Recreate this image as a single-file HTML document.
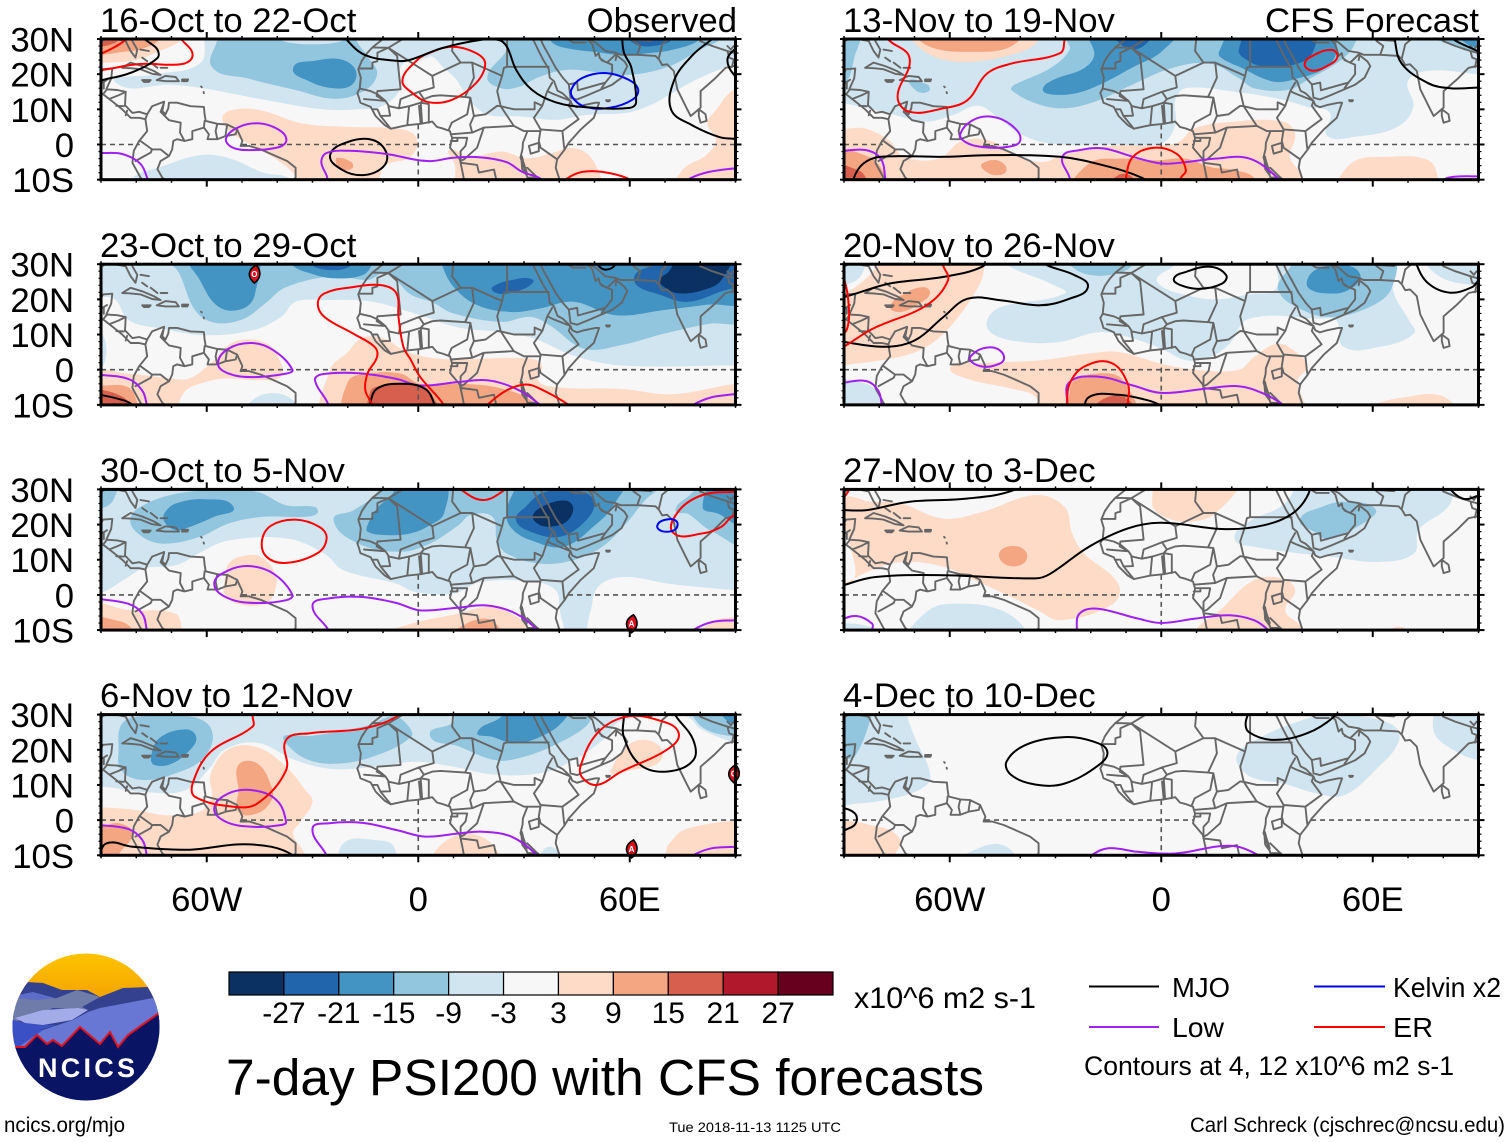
<!DOCTYPE html>
<html lang="en">
<head>
<meta charset="utf-8">
<title>7-day PSI200 with CFS forecasts</title>
<style>
html,body{margin:0;padding:0;background:#fff;}
svg{display:block;font-family:"Liberation Sans",Arial,sans-serif;}
</style>
</head>
<body>
<svg id="chart" xmlns="http://www.w3.org/2000/svg" width="1510" height="1142" viewBox="0 0 1510 1142">
<rect width="1510" height="1142" fill="#fff"/>
<defs id="clip-defs">
<clipPath id="logo-clip"><circle cx="86" cy="1027" r="73.5"/></clipPath>
<linearGradient id="logo-sky-gradient" x1="0" y1="0" x2="0" y2="1"><stop offset="0" stop-color="#ffc400"/><stop offset="1" stop-color="#f2a000"/></linearGradient>
</defs>
<g id="panels"></g>

<g font-size="34.7" fill="#000">
<text x="100" y="32">16-Oct to 22-Oct</text>
<text x="100" y="257">23-Oct to 29-Oct</text>
<text x="100" y="482">30-Oct to 5-Nov</text>
<text x="100" y="707">6-Nov to 12-Nov</text>
<text x="843" y="32">13-Nov to 19-Nov</text>
<text x="843" y="257">20-Nov to 26-Nov</text>
<text x="843" y="482">27-Nov to 3-Dec</text>
<text x="843" y="707">4-Dec to 10-Dec</text>
<text x="737" y="32" text-anchor="end">Observed</text>
<text x="1479" y="32" text-anchor="end">CFS Forecast</text>
</g>

<g clip-path="url(#logo-clip)">
<rect x="10" y="1000" width="155" height="105" fill="#3a50c4"/>
<rect x="12" y="953" width="148" height="50" fill="url(#logo-sky-gradient)"/>
<polygon points="27,982 43,983 62,990 87,990 100,997 123,988 148,987 162,1012 162,1030 10,1030 10,1005" fill="#34418f"/>
<polygon points="18,995 33,992 55,998 40,1002 17,1000" fill="#5c6cc8"/>
<polygon points="13,1008 17,998 37,1000 57,998 77,990 100,997 82,1007 88,1010 53,1008 10,1024" fill="#6f7ba8"/>
<polygon points="14,1050 43,1030 73,1020 88,1012 100,1008 153,998 162,1012 162,1060 14,1060" fill="#6877d4"/>
<polygon points="5,1018 25,1023 43,1025 57,1025 40,1030 20,1043 15,1050 5,1050" fill="#3a50c4"/>
<polygon points="15,1018 43,1010 78,1008 88,1010 72,1020 43,1025 25,1023" fill="#a3abe8"/>
<polygon points="0,1047 15,1047 25,1047 37,1035 47,1044 53,1040 62,1046 80,1027 100,1044 110,1032 118,1047 128,1035 159,1013 170,1008 170,1110 0,1110" fill="#0a1464"/>
<polyline points="15,1047 25,1047 37,1035 47,1044 53,1040 62,1046 80,1027 100,1044 110,1032 118,1047 128,1035 159,1013" fill="none" stroke="#e0141e" stroke-width="2"/>
<text x="38" y="1077" font-size="27" font-weight="bold" fill="#fff" textLength="97" lengthAdjust="spacing">NCICS</text>
</g>

<g id="colorbar"></g>
<text x="854" y="1008" font-size="30" textLength="182" lengthAdjust="spacingAndGlyphs">x10^6 m2 s-1</text>

<text x="226" y="1095" font-size="51" textLength="758" lengthAdjust="spacingAndGlyphs">7-day PSI200 with CFS forecasts</text>

<g font-size="28">
<line x1="1089" y1="986.5" x2="1159" y2="986.5" stroke="#000" stroke-width="2"/>
<text x="1172" y="997" textLength="58" lengthAdjust="spacingAndGlyphs">MJO</text>
<line x1="1314" y1="986.5" x2="1385" y2="986.5" stroke="#0000ee" stroke-width="2"/>
<text x="1393" y="997" textLength="108" lengthAdjust="spacingAndGlyphs">Kelvin x2</text>
<line x1="1089" y1="1027" x2="1159" y2="1027" stroke="#a020f0" stroke-width="2"/>
<text x="1172" y="1037" textLength="52" lengthAdjust="spacingAndGlyphs">Low</text>
<line x1="1314" y1="1027" x2="1385" y2="1027" stroke="#ff0000" stroke-width="2"/>
<text x="1393" y="1037" textLength="40" lengthAdjust="spacingAndGlyphs">ER</text>
<text x="1084" y="1075" font-size="27" textLength="370" lengthAdjust="spacingAndGlyphs">Contours at 4, 12 x10^6 m2 s-1</text>
</g>

<text x="4" y="1132" font-size="21" textLength="121" lengthAdjust="spacingAndGlyphs">ncics.org/mjo</text>
<text x="669" y="1132" font-size="14" textLength="172" lengthAdjust="spacingAndGlyphs">Tue 2018-11-13 1125 UTC</text>
<text x="1190" y="1132" font-size="21" textLength="315" lengthAdjust="spacingAndGlyphs">Carl Schreck (cjschrec@ncsu.edu)</text>
</svg>

<script>
// ---------- axis labels ----------
const latTickValues = [30, 20, 10, 0, -10];
const latTickLabels = ['30N', '20N', '10N', '0', '10S'];
const lonTickValues = [-60, 0, 60];
const lonTickLabels = ['60W', '0', '60E'];
const colorbarLabels = ['-27', '-21', '-15', '-9', '-3', '3', '9', '15', '21', '27'];

// ---------- PSI200 filled contours: [level, [lon, lat, lon, lat, ...]] ----------
const oct16Fields = [
[-1,[-62,33,-60.7,30,-62,23,-74,20,-85.7,17.5,-70,17,-61,16,-43,12.6,-27,10,-17,10,-10,11,-5,16,-5,22,-1,24.5,2,24.5,4,25,7,22,10.7,18.5,15,12,20,8.4,28.6,8,39,7,47.7,8.4,59,9,65.5,11,72,14.6,79,18.5,89.6,23,95,25,95,33]],
[-1,[-81,-14,-81,-9.5,-73,-6.4,-62,-3,-53.6,-3.9,-44,-8,-36.6,-9.6,-35,-14]],
[-2,[-57,33,-57,30,-58.5,22,-48.4,18.8,-34.8,15.5,-24,13,-15.8,15,-11.7,20,-14.4,25,-17.8,30,-18,33,-20,33,-20,30,-31,28.5,-40,30,-42,33]],
[-2,[23.9,33,23.9,29.7,25,26.9,19.6,19.2,23.5,16,28.6,16.4,34.3,19.2,42,21.2,50.5,20.6,57.9,19.8,65.5,20.6,73,23,79.7,26.9,85.4,29.7,87,33]],
[-3,[-35.5,21.7,-29.3,23.8,-22,24.2,-17.8,21.2,-18.8,17,-24,16,-30.7,17.9]],
[-3,[36,33,38,29,42,27.4,50.5,26.3,57.9,25.4,65.5,26,72,26.9,79.7,29.7,81,33]],
[-4,[59,33,60,29.7,63.5,28,68.4,28.3,71.8,29.7,73,33]],
[1,[-95,23,-89.6,23.2,-80,24,-74,26.3,-67,29.7,-65,33,-95,33]],
[2,[-95,25.5,-90,25.5,-84,26.3,-79,27,-73.5,29.7,-72,33,-95,33]],
[3,[-95,28,-90,27.9,-87.7,28.3,-85,29.7,-84,33,-95,33]],
[1,[-55.6,7.5,-52.8,9.8,-45,9.8,-32.9,6,-19.6,5,-8.2,4.7,-1.7,3.3,-.3,-.1,-2.6,-3.8,-9,-5.8,-11,-9.5,-11,-14,-35,-14,-34.6,-9.5,-40,-4.4,-46,-1,-52.8,3.3]],
[2,[-23,-3.8,-19,-5,-18.7,-6.7,-21.6,-7.2,-23.3,-5.3]],
[1,[8.8,-1.6,14.5,-3.5,23.8,-2,30.6,-3.9,38,-2.4,42.8,-1,47.7,-2.4,51.3,-8,52,-14,12.5,-14,10.2,-5.3]],
[1,[95,15,89.6,15.5,84.5,9.8,82,6,84.5,1.3,81.7,-3,75,-7.2,73,-14,95,-14]]
];
const oct23Fields = [
[-1,[-95,33,95,33,95,1.2,90,1.2,57.6,1.2,44,4,33,8.8,23.6,10.7,11.4,12,.5,15.5,-13,19.3,-26.6,19.8,-34.8,19.3,-38.9,15,-47,11.2,-60.6,9.8,-72.8,11.7,-82,14,-85.7,19.7,-88.4,20.7,-95,20]],
[-1,[-92,12,-89,9,-89,2,-92,-1]],
[-2,[-72,33,-68,27.7,-63.3,16.9,-57.9,13.4,-49.7,14.4,-43.6,18.7,-37.5,23.5,-24,26.6,-14.4,25.5,-9,27.5,-2.2,21.4,4,19.2,10,16,23.6,13.6,32,15,37.5,12.5,47,6,57.6,7,69.6,10.2,82,13,95,15,95,33]],
[-3,[-65,33,-62,25.6,-56.5,17.8,-49.7,17.4,-46.3,21.6,-46.7,33]],
[-3,[-36,33,-36,30,-30.7,27.4,-24,26,-15.8,26.9,-13,30,-12,33]],
[-4,[-31,33,-30.7,30,-24,28.3,-18.5,30,-18,33]],
[-3,[6.7,33,6.7,30,10,23.6,16.8,18.3,26.4,16.4,34.5,17.4,44,19.3,56,15.5,70,17,82,18.5,95,20,95,33]],
[-4,[61.7,27.3,67,30,70,33,95,33,95,22,89,23,76.6,19.3,68,21.5,62,24]],
[-5,[68.5,25.4,71,27.8,75,33,88,33,86,25.5,80.7,22.6,74,21.7,70.5,23]],
[-4,[21,23.5,27,25.6,32.5,25.6,31,23.5,25,21.6,21.6,22]],
[1,[-95,-1.5,-81,-1.3,-70,-2.5,-65,-2.5,-59,1.7,-52,8,-43,7.5,-39,2,-39,-2,-45,-3,-55,-2.5,-62,-4,-66,-6,-68,-10,-68,-14,-95,-14]],
[1,[-26,-14,-25,0,-20,5,-16,9,-10,9,-3,5,8,3,30,3.3,35,1.5,34,-3,39,-5,58,-5.5,72,-7,90,-4,95,-4,95,-14]],
[2,[-20,-3.5,-14.4,-1.1,-5,-1.1,.5,-4,11.4,-4,22,-5,32,-8.7,35,-14,-20,-14]],
[3,[-13.7,-6.4,-10.3,-4.5,-.8,-4,3.3,-6.4,5.3,-14,-13,-14]],
[2,[-95,-4.5,-90,-4.5,-82.3,-5,-79.6,-9.7,-79,-14,-95,-14]],
[3,[-95,-6.8,-83.7,-7.8,-81.6,-14,-95,-14]],
[-1,[-48.4,-10,-43,-6.8,-36,-8.3,-34,-14,-50,-14]]
];
const oct30Fields = [
[-1,[-95,33,95,33,95,-14,-95,-14]],
[0,[-95,.5,-90,.6,-83,4.6,-78,7.5,-68.5,8.5,-62,12,-53.7,15.5,-37,16,-26.6,11.7,-21.2,7,-6.2,3.2,-.8,.8,10,.4,18,3.7,33,3.7,39,1.3,40,-3.4,40,-14,-95,-14]],
[0,[50,-14,49.5,-1.5,52,3.2,59,5.1,71,3.2,90,1.3,95,1,95,-14]],
[-2,[-95,33,-86,33,-86.5,27,-90,24.5,-95,24]],
[-2,[-81.6,22,-77,26,-67.4,29,-56.5,29.8,-45.7,29.3,-37.5,25.5,-29.3,25,-28.6,23.2,-32,22.2,-44,22.2,-53.8,20.3,-62,16.5,-72.8,14.6,-79.6,17.5]],
[-3,[-72,23.2,-68.8,26,-60.6,27.2,-52.4,25,-57.9,22.2,-64.7,19.4,-68.8,18.4,-72,20.8]],
[-2,[-24,21.3,-17,14.6,-5,12.3,3.3,14.6,11.4,19.8,14.8,22.7,21,22.2,22.3,15.6,25,11.8,34.5,8.9,44,9.9,52.2,13.7,59,20.3,64.4,27,70.5,33,-11,33,-11.7,29,-18.5,24]],
[-3,[-14.4,19.8,-11.7,24.6,-7,29.3,-7,33,7,33,7.3,23.2,3.3,19.8,-2.2,17.5,-9,17,-14.4,18]],
[-3,[25,22.2,26.4,27.9,30.4,33,58,33,55,25,50.7,20.3,41.3,13.7,31.8,15.6,27,18.4]],
[-4,[27.7,21.3,30.4,25,36,29.3,46.7,29.3,50,26,46.7,20.3,40,16.5,31.8,18]],
[-5,[32.5,22.6,36,25.5,42,26.8,44,24.6,42,20.8,37.2,19.4,33.8,20.3]],
[-2,[73,24,76.6,28,83.4,33,95,33,95,14.6,83.4,18,76.6,23]],
[-3,[80.7,25,84.8,33,95,33,95,19.4,84.8,23.2]],
[1,[-55,3.7,-53.8,8.9,-50,11,-44.6,10.8,-40.6,6,-40.6,1.3,-43.3,-2.5,-51.4,-2.5,-55,.4]],
[1,[-95,-3.4,-81.5,-4.4,-69,-5.3,-67,-10,-67,-14,-95,-14]],
[2,[-95,-7,-85,-7.4,-81,-10,-81,-14,-95,-14]],
[1,[-16,-14,-3.5,-8.6,11.4,-5.3,19.6,-3.4,26.4,-5.3,31.8,-9.8,32,-14]],
[2,[8.7,-14,14,-8,21.6,-7.7,22.3,-14]],
[1,[78,-14,83.4,-7.7,90,-6.3,95,-6,95,-14]]
];
const nov6Fields = [
[-1,[-95,33,-95,8.5,-90,9.5,-78,8,-66,8.5,-59,15,-55,20,-45.7,22,-34.8,17,-24,14.5,-10.3,15.4,-.8,16.6,10,15.2,21,13,34.5,13.3,44,17,53.5,23.7,57,28,72,30,77,29,80,26,90,22,95,21.5,95,33]],
[-2,[-85,20,-84,27.5,-78.3,29.5,-64.7,29.5,-58.6,25.6,-60.6,18,-68.8,13.3,-78.3,11.4,-84.3,14.2]],
[-3,[-75.8,18,-73.5,23.3,-66,25.8,-63,23.7,-64.7,20,-70,16,-74.9,15.7]],
[-2,[-38,24,-30,24,-14,27,-7,29.5,-3,27,-2,23.7,-13,18,-24,16,-32,17.5,-37.5,21.8]],
[-2,[3.3,24.2,10,28,10,33,50,33,49.5,30,47.5,26.6,40,22,30,18,22,17,11.4,21]],
[-3,[16.8,25,23.6,29.5,24,33,43,33,42.6,30,37.2,25,27.7,21.8,21,23.7]],
[-2,[78,33,78,29.5,82,25.6,90,23.7,95,23.5,95,33]],
[-3,[86,33,88,28,95,27.5,95,33]],
[1,[-95,3.6,-90,3.6,-81,3,-71.5,1.4,-62,2.4,-58.6,6.6,-59,12.8,-53.8,20.2,-45.7,20.7,-37.5,15.2,-32,8.5,-30,5.2,-33.4,-.5,-35.5,-3.8,-32,-10,-32,-14,-95,-14]],
[2,[-51,15.7,-45.7,16.1,-41.6,9.5,-41.6,5.7,-45.7,1.9,-51,2.4,-51,8.5]],
[2,[-95,-1.9,-90,-1.9,-85,-.9,-81,-3.8,-85,-10,-85,-14,-95,-14]],
[1,[4,-14,4,-10,10,-4.7,16.8,-4.3,22.3,-8.5,23,-14]],
[1,[70.5,-14,70.5,-8,71.3,-6.6,75.3,-2.8,90,0,95,0,95,-14]],
[1,[54.6,14.2,59,20.9,64.4,22.8,69.2,20,67.8,16,60.3,14.2,54.9,13]],
[-1,[-21.2,-6.6,-11.7,-5.7,-6.9,-7.6,-7.6,-14,-21,-14]],
[-1,[35,-14,37.2,-7.6,41.3,-14]]
];
const nov13Fields = [
[-1,[-95,12,-90,11.7,-77,8.8,-67,6.5,-59,8.4,-52,11,-46.6,7.9,-40,3,-31.5,.3,-13.6,0,0,.3,4,5.6,4,12.7,7,16,20.8,15,34.5,12.7,41.3,10.7,47.8,9,47,2.6,55,2.2,67,5,71.5,10.7,70,18,76,21,90,20,95,20,95,33,-95,33]],
[-2,[-95,33,-86,33,-87,25,-90,17,-95,17]],
[-2,[-71.4,18.3,-68.6,17.9,-65.6,16,-68,14.7,-70.7,16.4]],
[-2,[-27.4,33,-27,30,-26,26.9,-31.5,21.7,-41.8,16.9,-42.5,15.5,-35.6,11.7,-27.4,10.3,-17.7,12.6,-9.5,16.4,2.9,21.7,13.9,23,22.1,18.8,26.3,16,35.9,15.5,41.4,18.3,51,24,55,28.8,55,33]],
[-3,[-33.6,15.7,-30.8,18.3,-21.9,21.7,-19,25.5,-20.5,33,4.3,33,0,26.4,-8,22,-17.7,16.9,-24.6,14.5,-31.5,14.3]],
[-3,[16.6,26.9,20.8,33,47,33,49.7,26.9,46.9,22,38.7,18.8,31.8,17.9,22.1,22.1,16.6,25]],
[-4,[-13.6,33,-13,30,-8,27,-3,30,-3,33]],
[-4,[22,26.9,25.6,33,42.8,33,42.8,25.9,37.3,22.6,29,22.1,23.5,24.5]],
[-2,[75.8,33,85.4,27,90,26.4,95,26,95,33]],
[-3,[85,30,90,27.3,95,27,95,33,85,33]],
[1,[-71.4,33,-71,30,-64.5,25,-54.9,23.5,-42.5,25.5,-35.6,28.8,-35,33]],
[2,[-69,33,-69,30,-63,27,-53.5,26.4,-45,27,-40,30,-40,33]],
[1,[-90,4.5,-83.8,4.5,-77,1,-73,-3.5,-63,-4,-57,.8,-49,1.2,-42,-2.6,-34,-5,-28,-3,-20,-1.2,-13,-.3,4,.3,9.5,4.6,20.8,6.5,34.5,6.5,38,3,36.5,-3.5,40,-9,40,-14,-95,-14,-95,4.5]],
[2,[-95,-2.6,-83,-3.5,-78,-9.5,-78,-14,-95,-14]],
[3,[-95,-6,-86,-7.3,-83.8,-9.5,-83,-14,-95,-14]],
[2,[-25.3,-14,-20.5,-5.4,-12.2,-4,-1.2,-4.5,7,-4,13.9,-6.4,20.8,-7.3,26.3,-9.5,26.3,-14]],
[2,[-50.8,-5.4,-46.6,-4.5,-43.9,-7.3,-47.3,-8.7,-50.8,-6.8]],
[3,[-15.7,-14,-12.2,-8.7,-8,-9.5,-8,-14]],
[1,[51,-14,53.8,-5.4,64.8,-3.5,75.8,-4.5,78.5,-9.5,78.5,-14]]
];
const nov20Fields = [
[-1,[-44,33,-44,30,-31.5,24.5,-27.4,21.7,-45.3,17.9,-49.4,14,-48,10.3,-39.8,7.9,-28.7,7.9,-17.7,10.7,-9.5,9.3,0,6,7,2.7,13.9,3.6,19.4,7.4,24.9,14.5,45.5,14.5,49.7,14,51.7,6.5,62,6.5,71.7,10.3,70.3,14,66,21.7,65.5,29.4,65,33]],
[0,[-1.2,26,4,30,4,33,32,33,32.5,30,32.5,23,25,21.5,15,20,6,21.5,.5,23.5]],
[-1,[-95,33,-85,33,-85,27,-90,24,-95,24]],
[-1,[-95,-4,-83.8,-4,-79.6,-7.8,-79,-14,-95,-14]],
[-1,[74.4,33,75,30,81,25.5,90,24,95,24,95,33]],
[-2,[-26,33,-26,30,-20.5,27,-12.2,27.4,-8,30,-8,33]],
[-2,[33.2,22.6,35.9,28.3,41.4,33,65,33,65.5,23.5,59.3,17.9,48.3,15,40,17]],
[-3,[41.4,25.5,44,28.5,51,30,56.5,26.9,53,22.6,46.9,21.7,42,23]],
[1,[-95,21.7,-90,21.7,-82.4,27.2,-78,33,-50,33,-50,30,-51.4,24.6,-57.6,15,-64.5,7.9,-72.8,4,-90,1.3,-95,1.3]],
[2,[-76.9,17.9,-72.8,21.7,-67.3,23.5,-65.6,21.7,-68.6,18.8,-74,16.4]],
[1,[-59.7,.8,-52,1.8,-34,2.7,-20.5,4.6,-12,5,0,1.7,9.8,0,22,0,26.3,3.6,33,7.4,38.7,4.6,41.4,.8,38.7,-3,40,-7.8,42,-14,-34,-14,-35.6,-7.8,-42.5,-5.4,-54.9,-2.6]],
[1,[51,-14,60,-10,68,-8,80,-7.6,84,-14]],
[2,[-26,-6.8,-24.6,-3,-16.4,-1,-10.9,-3,-8,-14,-26,-14]],
[3,[-20,-14,-16.4,-8.3,-9.5,-8.3,-8,-14]]
];
const nov27Fields = [
[1,[-90,3.2,-90,27,-82.4,26.5,-74,26,-61.8,21.7,-50.8,23.6,-35.6,28.4,-27.4,25,-25.3,17.5,-21.9,11.8,-12.2,3.2,-13.6,-2.5,-28.7,-7.2,-35,-4.4,-42.5,-.6,-50.8,3.2,-61.8,8,-72.8,9.4,-81,7.5,-90,3.2,-95,1,-95,27]],
[2,[-46,11.8,-42.5,13.9,-38.4,12.3,-39,9,-43.9,8.5]],
[1,[-2.6,26,0,33,20.8,33,15.3,23.2,7,20.8,0,22.7]],
[1,[9.8,-14,9.8,-10,16.6,-4.4,26.3,4.2,34.5,4.6,38,1.3,35.2,-4.4,39.3,-8.6,42,-14]],
[1,[62,-14,67.5,-9,72,-14]],
[-1,[20.8,16,24.9,20.8,34.5,25.5,41.4,33,81,33,82,26,73,18.4,71.7,11.8,62,9.4,48.3,10.8,26.3,13.7]],
[-2,[39.3,21.3,45.5,25,52.4,26.5,60.7,24.5,58,20.8,47,16,43.5,17.9]],
[-1,[-71.4,-14,-66,-4.4,-56.3,-2.5,-45.3,-4.4,-38.4,-10,-38,-14]],
[-1,[-95,-14,-95,-9.3,-82,-9.3,-82,-14]]
];
const dec4Fields = [
[-1,[-95,33,-72,33,-72,29.4,-70,23.7,-65.5,12.3,-68.9,8.5,-78.4,5.7,-86.6,4.7,-95,4.7]],
[-2,[-95,33,-82.5,33,-82.4,29,-87,18,-90,17.5,-95,17.5]],
[-1,[21.5,18.5,25,21.8,37.3,27.5,48.3,30,64.8,27.5,67.5,22.8,60.7,14.2,51.7,7,44,7.6,34.5,10.4,26.3,11.9,22.1,15.2]],
[-1,[77.2,25.6,80,33,95,33,95,17,90,17,82.7,20]],
[1,[-95,-2,-79.6,-2,-74,-5.7,-75.5,-10,-75.5,-14,-95,-14]],
[-1,[-59,-14,-50.8,-7.6,-43.9,-7.6,-40.4,-14]]
];

// ---------- wave-filtered contours: [wave, closed, [lon, lat, ...]] ----------
const oct16Contours = [
['ER',1,[9.6,27.8,16.4,26,19,23,16.4,17.5,9.6,12.7,3.1,12,-1.6,14.6,-4.5,18.3,-.3,24,3,26]],
['ER',0,[-92,21,-89.6,21.2,-79,22.9,-67,22.9,-64,25.4,-67,29.7,-70,33]],
['ER',0,[-92,25.5,-89.6,26,-84,29,-81,32]],
['ER',0,[40,-12,42.3,-9.6,46.5,-7.8,52.2,-7.8,59.3,-9.6,62,-12]],
['Kelvin',1,[43.4,15.5,46.5,18.9,53.3,20.3,59.9,18.3,62.4,15.5,60.7,12.7,54.2,10.4,47.7,10.6,44.3,12.7]],
['MJO',0,[-92,17.7,-89.6,18.3,-81,20.6,-74,24.6,-74,27,-76.3,29,-77.7,30,-79,32]],
['MJO',0,[-22,33,-20.5,30,-15,25.4,-6.2,23.8,-2.6,24,6.8,27.4,17.3,29.7,23,29.7,25.2,27.7,27.8,21.2,32.3,15.5,39,12,47.7,10.6,60,10.4,61.8,12,60.4,22,58.4,26,57.9,29.7,58,33]],
['MJO',0,[87,33,83,29.7,77.8,25.4,72.6,18.3,71.8,9.8,77.7,5.5,85.4,2.1,89.6,1.6,93,1.3]],
['MJO',0,[93,29,89.6,26.9,87.7,24,89.6,19.8,93,18]],
['MJO',1,[-25,-3,-20,.7,-13,1.3,-9,-2.4,-10,-6.4,-15.6,-8.7,-21.6,-7.2]],
['Low',0,[-92,-2.4,-89.6,-2.4,-84,-2.7,-79,-5.3,-76.9,-9.5,-76,-13]],
['Low',1,[-54.5,1.8,-50.8,5,-45,6,-39.4,4.1,-37.4,1.3,-39.4,-.7,-48,-1.6,-53,-.7]],
['Low',0,[-26,-13,-25.8,-9.5,-27.5,-5,-26,-2.4,-19.6,-1.8,-9,-2.7,-.3,-4.4,4,-4.7,9.6,-3.8,17.3,-3.6,25,-5,29.5,-7.8,34.3,-9.5,37,-12]],
['Low',0,[74,-12,77.4,-9.5,82.5,-7.8,89.6,-6.8,93,-6.5]]
];
const oct23Contours = [
['Low',0,[-92,-1.3,-82.3,-2.6,-78.3,-5.9,-77,-10,-76.5,-13]],
['Low',1,[-56.8,1.7,-53.8,6,-47,7.6,-41,5.5,-35.7,0,-37.5,-1.1,-47,-2.1,-53.8,-1.1]],
['Low',0,[-26,-13,-25.5,-10,-29.3,-3,-27.3,-1.3,-17,-1,-6.2,-2.6,.5,-4.5,11.4,-3.5,19.6,-3,27.7,-5.4,34.5,-10,37,-13]],
['Low',0,[75,-13,78,-10,83.4,-7.8,89.5,-7,93,-6.7]],
['MJO',0,[49,33,50.8,30,52.8,28.5,55.6,29.5,57,33]],
['MJO',0,[-92,-6.8,-85,-8.3,-81,-10,-79,-13]],
['MJO',0,[-14,-14,-13.7,-10,-11.7,-5.4,-5,-4,1.9,-5.4,4.6,-10,5,-14]],
['ER',0,[9,-14,7.3,-10,.5,-2,-2,2.6,-4.2,6.5,-5.6,15,-6.2,21.7,-10.3,24,-18.5,23.5,-26.6,21.7,-28.5,18.8,-26.6,15,-18.5,10.3,-12.4,6.5,-11.7,3.6,-14.4,-1.1,-15,-5.9,-13,-10,-12,-14]],
['ER',0,[17,-13,19.6,-10,25,-5.9,30.4,-4.2,34.5,-5.4,42.7,-10,46,-13]]
];
const oct30Contours = [
['Low',0,[-92,-1,-82.3,-2.5,-78.3,-5.3,-77,-10,-76.5,-13]],
['Low',1,[-57.9,3.2,-53.8,7,-47.7,8.2,-41,6,-35.7,0,-37.5,-1.5,-45.7,-2.3,-53.8,-1]],
['Low',0,[-25,-13,-25.5,-10,-30,-3,-25.3,-1,-15.8,-.6,-6.2,-2.3,.5,-4.4,11.4,-3.6,19.6,-3,27.7,-5.3,33.8,-10,36,-13]],
['Low',0,[75,-13,78,-10,83.4,-7.7,90,-7.2,93,-7]],
['ER',1,[-44.3,15.6,-41.6,19.8,-34.8,21.4,-28,19.3,-26,16,-28.7,11.8,-37.5,9.1,-43,10.8]],
['ER',0,[10.5,32,12,30,18.2,27,24,29.5,27,33]],
['ER',1,[72.3,17.7,74,24,80.7,28.4,90,29.3,95,29,95,21,90,22.7,86,19.4,80.7,17.5]],
['Kelvin',1,[67.8,19.6,69.8,21.3,73.2,21,72.9,18.6,69.3,18.1]]
];
const nov6Contours = [
['Low',0,[-92,-1.3,-82.3,-2.5,-78.3,-5.6,-77,-10,-76.5,-13]],
['Low',1,[-57.9,3.3,-53.8,7.6,-47,8.5,-40.2,5.7,-37.5,-.5,-38.9,-1.4,-47,-1.9,-54.5,-.5]],
['Low',0,[-25,-13,-26,-10,-30,-2.4,-25.3,-.9,-15.8,-.8,-6.2,-2.8,1.9,-4.7,11.4,-3.8,18.2,-3.3,26.4,-4.7,33.8,-10,36,-13]],
['Low',0,[75,-13,78,-10,83.4,-8,90,-7.6,93,-7.4]],
['MJO',0,[-91,-14,-90.5,-11,-88.4,-6.6,-81,-7.6,-64.7,-8.4,-51,-6.9,-41.6,-7.6,-35.5,-10,-33,-13]],
['MJO',0,[58.3,33,58.3,29.4,58.3,23.7,63,15.7,70.5,13.8,78,17,78,22.8,73.2,29.4,71,33]],
['ER',0,[-47,33,-47,29.5,-47,26.6,-59,19.3,-64,10.4,-63.3,6.6,-52.4,3.8,-45.7,4.7,-37.5,14.2,-37.5,22.8,-30.7,24.7,-15.8,26,-6.2,29.4,-4,33]],
['ER',1,[46,15.2,50.8,24.7,59,29.4,68.5,28.3,73.9,24.7,70.5,20,57.6,13.8,50.8,10,46.7,11.9]]
];
const nov13Contours = [
['Low',0,[-92,-2,-83.8,-1.6,-79.6,-4,-78.3,-9.5,-78,-13]],
['Low',1,[-57,3,-53.5,6.9,-48,7.9,-42.5,5.5,-40,1.2,-43.9,-.7,-50.8,-.7,-55.6,.7]],
['Low',0,[-26,-13,-26,-9.5,-28,-3.5,-23.2,-1.6,-16.4,-1.1,-8,-3.5,0,-5.4,7,-5,15.3,-4,25,-4,33,-9.5,35,-13]],
['Low',0,[78,-12,81.3,-9.5,90,-9,93,-8.8]],
['MJO',0,[-87.5,-14,-87.2,-9.5,-84.5,-5.4,-79.6,-3.5,-61.8,-3.5,-48,-3,-28.7,-3.5,-16.4,-5.9,-5.4,-9.5,-3,-12]],
['MJO',0,[66,33,66.2,30,68.2,23,75.8,17.4,82,16,90,16.2,94,16.3]],
['MJO',0,[80,33,82.7,30,90,26.4,94,24]],
['ER',0,[-78.5,33,-77.6,30,-71.4,24.5,-74.8,13.6,-71.4,9.3,-61.8,10.3,-55,12.6,-49.4,20.2,-42.5,23,-28.7,26,-27.4,30,-27,33]],
['ER',1,[40.7,23,43.5,25.5,48.3,26.9,50,25,47.6,22.6,42.8,21]],
['ER',0,[-10,-14,-10,-9.5,-8,-3.5,-2,-.9,4.3,-2.6,7,-7.3,5.6,-9.5,5,-14]]
];
const nov20Contours = [
['Low',0,[-92,-4,-83.8,-3.2,-80.3,-5.9,-79.3,-10,-79,-13]],
['Low',1,[-54.2,3.6,-50.8,6,-46.6,6,-44.6,3.1,-47.3,1.2,-50.8,.9,-53.8,2.2]],
['Low',0,[-27,-13,-26.7,-10,-26,-3.5,-17.7,-2,-8,-4.5,0,-6.6,12.5,-5.4,22,-4.7,29,-6.8,34.5,-10,37,-13]],
['MJO',0,[-92,20,-86.5,21.7,-77,24.5,-61.8,26.4,-50.8,29.3,-48,33]],
['MJO',0,[-92,8.2,-78.3,6.5,-70,8.3,-61.8,15,-54.9,20.2,-45.3,19.7,-34.3,18.3,-26,20.2,-20.8,23.5,-24.6,26.9,-33,30,-36,33]],
['MJO',1,[3.6,25.9,7,27.8,13.9,29.3,18.4,26.9,17.3,24.5,11,23,5.6,24]],
['MJO',0,[72.4,33,72.4,30,75.8,24.5,82,21.9,88.2,23.5,90,25.4,93,28]],
['MJO',0,[-22,-13,-20.5,-7.8,-12.2,-7.1,-5.4,-8.3,-.5,-10,2,-13]],
['ER',0,[-92,33,-90,26,-88.8,20,-89,12,-92,8]],
['ER',0,[-92,5.5,-89.3,7,-81.8,11.7,-66.6,18.3,-60.5,25.4,-62,30,-62,33]],
['ER',0,[-26.7,-14,-26.7,-10,-26,-4,-22,.8,-14.3,2,-9.5,-4,-9.5,-10,-9.5,-14]]
];
const nov27Contours = [
['Low',0,[-92,-7.4,-86.5,-6,-82,-8.2,-82,-10,-82,-13]],
['Low',0,[-24,-13,-24,-10,-23.2,-5.3,-18.4,-3.9,-6.7,-6.7,0,-8,9.8,-6.7,19.4,-5.8,26.3,-7.2,30.4,-10,33,-13]],
['MJO',0,[-92,24.2,-83.8,24.1,-71.4,26.5,-54.9,27.4,-41.8,29.8,-40,33]],
['MJO',0,[-93,1.5,-90,2.8,-81,5.1,-61.8,5.6,-35.6,4.7,-31.5,6,-20.5,13.7,-9.5,18.9,0,20.5,18,18.7,29,19.8,37.3,23.2,41.8,28.8,41.8,33]],
['MJO',0,[78,33,80,32,85.4,27.4,90,28.3,93,30]],
['ER',0,[-87.5,33,-88.5,30,-90.5,27]]
];
const dec4Contours = [
['Low',0,[-23,-13,-19.8,-10,-15,-8,-6.7,-9,4,-9.5,19.4,-7.3,27.6,-10,30,-13]],
['MJO',1,[-43.9,16.6,-38.4,21.4,-27.4,23.6,-19.1,22.3,-15.3,19.5,-17.7,15.7,-27.4,10.4,-35.6,10.1,-42.5,12.8]],
['MJO',0,[26,33,24,28,24.9,25,31.8,22.8,41.4,24.7,49,29.4,51,33]],
['MJO',0,[-92,4,-87,2,-86.7,-1,-90,-3,-92,-4.5]]
];

// ---------- tropical cyclone markers ----------
const cyclonePanels = [1, 2, 3, 3];
const cycloneLons = [-46.5, 60.5, 60.5, 89.5];
const cycloneLats = [27.2, -8.2, -8.2, 13.2];
const cycloneLetters = ['O', 'A', 'A', 'C'];

// ---------- coastlines and borders (lon, lat) ----------
const coastlines = [
// West Africa
[-9.8,31,-10,30,-13,27.6,-14.5,26,-16,23.8,-17,21.4,-16.3,19,-16.6,15.9,-17.3,14.7,-16.8,13.3,-16.4,11.9,-13.5,10.7,-12.1,8.1,-9.5,5.5,-7.8,4.5,-5,5.1,-3.1,5.5,.7,5.9,4,6.5,5.3,5,6.8,4.6,9,3.8,9.6,1.8,9,-.9,11.8,-4.2,12.5,-7.5,12.9,-9.6,13.3,-12],
// East Africa
[32.5,30,33.5,28,34.2,26.5,35.5,24,37,21.5,37.3,19,38.5,18,39.5,15.3,41,14.5,43.2,12.4,43.7,11.2,45,10.6,47,11.2,50.3,11.9,51.3,11.9,49.8,7.6,46.1,4.3,42.7,.5,41.5,-1.5,39.4,-4.2,39,-6.6,39.9,-9.4,40.4,-12],
// Arabia
[34.9,29.5,35.6,28,37,25.5,39,21.8,41,19,42.7,17.1,43.2,13.3,45,12.8,48,14,52,15.7,55,17,57.7,19,59.3,22.3,58.5,23.6,56.5,25.2,56,25.6,53.6,23.3,52.7,23.7,51.5,24.6,51.2,26,50.3,25.2,49.4,28.5,48,29.9,48.4,30.2],
// Iran, Pakistan, India, Bay of Bengal
[48.4,29.9,50.3,29,53.1,26.6,56,26.1,57.4,25.5,62.1,25.5,67.3,25.2,68.3,24.2,69.2,22.6,70.6,22.8,72.5,20.9,73.5,15.7,76.3,10,77.3,8.1,77.9,8.6,80.1,10.5,80.1,15.2,83.9,18.5,87.2,21.8,89.5,22.3,91,22.7,91.8,21.5,92.5,20,94.3,18,94.5,16],
// Sri Lanka and Socotra
[79.6,10,81.5,8.6,81.8,6.7,80.1,6.2,79.6,8.1,79.6,10],
[53.3,12.6,54.4,12.6,54.2,12.3,53.5,12.3,53.3,12.6],
// Gulf coast and Florida
[-92,29.6,-90,29.3,-88,30.3,-85,29.8,-83,29.4,-81.6,26.6,-80.2,24.7,-79.7,27,-81.1,29.4,-81.5,31],
// Caribbean coast Mexico to Brazil
[-92,18.7,-90.5,19.5,-89.4,21.4,-86.8,21.6,-87.1,18.8,-88.5,15.7,-85.4,15.5,-83,15,-83.2,11.2,-81.1,9,-79.2,9.3,-76.9,8.6,-75.5,10.9,-72.1,12.2,-72.6,9.5,-71.7,8.6,-70.9,10.3,-70.7,11.9,-68.4,11.9,-64.6,10.9,-60.8,10.7,-60.6,8.6,-60.3,6.7,-57,5.9,-54.2,5.7,-51.4,4.3,-49.9,1,-50.4,-.4,-48,-.4,-44.7,-1.4,-41.9,-2.6,-37.2,-4.7,-34.8,-6.6,-34.8,-9.4,-36,-11],
// Pacific coast
[-92,14.5,-89.4,14.3,-86.3,11.9,-84,10,-81.6,7.6,-79.2,7.6,-77.4,7.2,-76.9,3.8,-79.2,1,-80.7,-1.8,-81.1,-5.2,-78.8,-9.4,-77,-12],
// Cuba, Hispaniola, Jamaica, Puerto Rico
[-84,21.8,-81.6,23.3,-78.3,22.3,-75,20.9,-73.1,19.8,-75.5,20.1,-78.8,21.4,-81.6,21.7,-84,21.8],
[-74.2,18.3,-71.7,19.5,-68.8,19.2,-67.9,18,-71.7,18,-74.2,18.3],
[-78.3,18.3,-75.9,18.3,-76.4,17.8,-77.8,17.8,-78.3,18.3],
[-67,18.5,-65.3,18.5,-65.5,18,-67,18,-67,18.5],
// Bahamas and small islands
[-78.8,27,-76.4,26.6],[-78.3,24.7,-76.9,23.7],[-75.9,23.3,-74,21.8],[-73.1,21.8,-71.2,21.8],
[-61.6,16.5,-61.4,16.3],[-60.9,14.9,-60.8,14.6],
// Lakes
[31.4,-.4,34.2,.5,34.2,-1.9,31.9,-2.6,31.4,-.4],
[29.2,-3.4,29.5,-7,30.6,-8.5,30.8,-8,29.8,-5,29.4,-3.4],
[34,-9.5,34.7,-11.5,34.4,-12]
];
const borders = [
// North-west Africa
[-13,27.6,-8.5,27.5],[-16.8,21.6,-13,21.6,-13,23.3,-11.6,23.7,-11.6,26.1,-8.5,27.5,-6,25.2,-5,15.7,-11.6,15.2,-11.8,13.8,-9.3,12.4],
[-16.6,15.9,-13.5,15.2,-11.6,14.3,-9.3,12.4,-8.3,10.9,-5.5,10.3,-5,12.9,.2,15,1.6,12.9,.7,11.9,-2.6,10.9,-5.5,10.3],
[-15.4,12.9,-9.3,12.4],[-13,10,-11.6,10,-10.7,8.1,-7.8,4.5],[-8.5,11,-8,8.2,-10.7,8.1],[-8.5,27.5,4,19.5,12,23.3,9.6,26.6,10,31],
[-8.5,27.5,-3.5,30.5],[12,23.3,15.3,23.3,23.8,19.5,24.3,21.8,25.2,22.1,25.2,31],[25.2,22.1,37,22.1],
[15.3,23.3,15.8,19,13.4,13.8],[4,19.5,4.4,16.2,.2,15],
[-2.6,10.9,-3.1,5.5],[.2,11,.7,5.9],[.7,11.9,1.1,6],[.7,11.9,3,11.5],[3,11.5,3,6.2],[1.6,12.9,4,13.8,6.3,14,13.4,13.5],
[13.4,13.5,14.8,13.3,13.9,8.6,9.5,6.2,8.7,4.3],
[14.8,13.3,15.8,8.1,14.7,5.7,15.3,3.4,9.2,2.9],[15.8,8.1,19.1,8.6,22.4,11,23.4,10.9,22.4,15.2,23.8,19.5],
[23.4,10.9,27.1,5.3,18.6,4.8,15.3,3.4],[27.1,5.3,30,3.8,34.7,3.8],
[9.6,1.9,13.9,1.9,13.4,-.4,12,-1.9,12,-4.2],[9.2,1,11.1,1,11.1,1.9],[18.6,4.8,16.7,-.9,13,-4.2,12,-4.7],
[12,-5.2,16.7,-5.8,17.2,-8,21.5,-7.1,22,-9.4,22,-11],
// Central and east Africa
[30.9,3.6,29.7,.5,29.6,-1.2,29,-3.7,30,-6.5,31,-9.4,33.8,-9.4],[30.9,-6.6,33.8,-9.4],
[38,17.6,36.6,15.2,35.2,11,32.8,7.6,34.7,4.3,40.9,3.8,45.5,7.2,42.7,11,43.2,12.4],[27.1,10,33,10,33,12,35.2,11],
[36.6,15.2,38,14.5,43,12.5],[34.7,4.3,34.2,1,34.7,-.9,39.4,-4.2],[40.9,3.8,41.3,0,41.5,-1.5],
[23.4,10.9,27.1,10],
// Middle East and South Asia
[42.7,17.1,45.1,17.6,45.3,15.4,53.1,17.6,55,20,55,22.7,52,24],[53.1,17.6,52,16],[56,24,56.3,25.5],
[39,32,44,29,47.5,29],[48.4,30.2,46,33],[62.1,25.5,63,28,61,29.5,61,31],[61,29.8,66,29.5,70,33],
[69.2,28.5,68.3,24.7],[69.2,28.5,71,30,74,31.5],[80,29.4,83.4,28,87.7,26.6,88.2,24.7,89.5,24.2,89,22],
[87.7,28,88.7,27,89.5,28,92,27,92,28,97,28.5],[92,25,89.8,25.2,89.8,26,87.7,26.6],[92.5,21,92,23,91,23,92,25],
[92,25,94,24,95,27,97,28.5],[78,33,80,29.4],
// Central America
[-92,14.5,-91,17,-89.2,17.8,-88.3,18.4],[-89.2,17.8,-89.2,15.9],[-88.3,15.7,-89.4,14.3],[-87.5,13,-85,14,-83,15],
[-85.7,11,-83.5,10.9],[-83,8.3,-82.6,9.6],[-77.4,7.2,-76.9,8.6],
// South America
[-72.1,11.9,-73.1,9.3,-70.7,6.9,-67.4,6.2,-67.6,3.4,-66.3,1,-64.1,1.5,-64.1,3.8,-60.8,4.8,-60.6,6.7],
[-60.8,4.8,-59.4,2.9,-59.8,1.5,-57,1.5,-57.5,3.8,-57,5.9],[-57,1.5,-54.7,2.4,-54.2,5.7],[-54.7,2.4,-51.8,2.9,-51.4,4.3],
[-66.3,1,-68.4,1.5,-69.5,1,-69.8,-1.4,-70.7,-3.3,-73.1,-1.4,-75.5,-1.4,-78.8,1],[-75.5,-1.4,-75.9,-2.3,-80.2,-4.7],
[-70.7,-3.3,-73.1,-4.7,-74,-7,-72.6,-9.4,-70.5,-11],[-70.5,-11,-65,-10,-60,-13]
];

// ---------- styling lookups ----------
function levelColor(level) {
  const shades = {'-5':'#0a3161','-4':'#2166ac','-3':'#4393c3','-2':'#92c5de','-1':'#d1e5f0','0':'#f7f7f7','1':'#fddbc7','2':'#f4a582','3':'#d6604d','4':'#b2182b','5':'#67001f'};
  return shades[String(level)];
}
function waveColor(wave) {
  const shades = {MJO:'#000000',Kelvin:'#0000ee',Low:'#a020f0',ER:'#ff0000'};
  return shades[wave];
}

// ---------- axis functions ----------
const NS = 'http://www.w3.org/2000/svg';
const panelTitleKeys = ['oct-16','oct-23','oct-30','nov-6','nov-13','nov-20','nov-27','dec-4'];
const fieldSets = [oct16Fields, oct23Fields, oct30Fields, nov6Fields, nov13Fields, nov20Fields, nov27Fields, dec4Fields];
const contourSets = [oct16Contours, oct23Contours, oct30Contours, nov6Contours, nov13Contours, nov20Contours, nov27Contours, dec4Contours];

function panelLeft(i) { return i < 4 ? 101 : 844; }
function panelTop(i) { return 39 + (i % 4) * 225.2; }
function xScale(i, lon) { return panelLeft(i) + (lon + 90) * 3.525; }
function yScale(i, lat) { return panelTop(i) + (30 - lat) * 3.517; }

// Smooth curve through the points; tangent lengths scale with each segment so
// unevenly spaced points do not kink or overshoot.
function smoothPath(i, flat, closed) {
  const p = [];
  for (let k = 0; k < flat.length; k += 2) p.push([xScale(i, flat[k]), yScale(i, flat[k + 1])]);
  const n = p.length;
  const at = (k) => closed ? p[(k + n) % n] : p[Math.max(0, Math.min(n - 1, k))];
  const tangent = (k) => {
    const a = at(k - 1), c = at(k + 1);
    const dx = c[0] - a[0], dy = c[1] - a[1];
    const len = Math.hypot(dx, dy) || 1;
    return [dx / len, dy / len];
  };
  let d = 'M' + p[0][0].toFixed(1) + ' ' + p[0][1].toFixed(1);
  const segs = closed ? n : n - 1;
  for (let k = 0; k < segs; k++) {
    const b = at(k), c = at(k + 1);
    const h = Math.hypot(c[0] - b[0], c[1] - b[1]) * 0.36;
    const tb = tangent(k), tc = tangent(k + 1);
    d += 'C' + (b[0] + tb[0] * h).toFixed(1) + ' ' + (b[1] + tb[1] * h).toFixed(1) + ' ' + (c[0] - tc[0] * h).toFixed(1) + ' ' + (c[1] - tc[1] * h).toFixed(1) + ' ' + c[0].toFixed(1) + ' ' + c[1].toFixed(1);
  }
  return d + (closed ? 'Z' : '');
}
function straightPath(i, flat) {
  let d = '';
  for (let k = 0; k < flat.length; k += 2) {
    d += (k ? 'L' : 'M') + xScale(i, flat[k]).toFixed(1) + ' ' + yScale(i, flat[k + 1]).toFixed(1);
  }
  return d;
}
function lineSeg(parent, x1, y1, x2, y2, stroke, width, dash) {
  const l = document.createElementNS(NS, 'line');
  l.setAttribute('x1', x1); l.setAttribute('y1', y1); l.setAttribute('x2', x2); l.setAttribute('y2', y2);
  l.setAttribute('stroke', stroke); l.setAttribute('stroke-width', width);
  if (dash) l.setAttribute('stroke-dasharray', dash);
  parent.appendChild(l);
  return l;
}

const panelsRoot = document.getElementById('panels');
const clipDefs = document.getElementById('clip-defs');

function drawPanel(i) {
  const left = xScale(i, -90), right = xScale(i, 90), top = yScale(i, 30), bottom = yScale(i, -10);
  const g = document.createElementNS(NS, 'g');
  
  
  panelsRoot.appendChild(g);

  const clip = document.createElementNS(NS, 'clipPath');
  clip.setAttribute('id', 'panel-clip-' + i);
  const clipRect = document.createElementNS(NS, 'rect');
  clipRect.setAttribute('x', left); clipRect.setAttribute('y', top);
  clipRect.setAttribute('width', right - left); clipRect.setAttribute('height', bottom - top);
  clip.appendChild(clipRect);
  clipDefs.appendChild(clip);

  const inner = document.createElementNS(NS, 'g');
  inner.setAttribute('clip-path', 'url(#panel-clip-' + i + ')');
  g.appendChild(inner);

  const bg = document.createElementNS(NS, 'rect');
  
  
  bg.setAttribute('x', left); bg.setAttribute('y', top);
  bg.setAttribute('width', right - left); bg.setAttribute('height', bottom - top);
  bg.setAttribute('fill', levelColor(0));
  inner.appendChild(bg);

  fieldSets[i].forEach(function (f) {
    const shape = document.createElementNS(NS, 'path');
    
    
    shape.setAttribute('d', smoothPath(i, f[1], true));
    shape.setAttribute('fill', levelColor(f[0]));
    inner.appendChild(shape);
  });

  const refs = document.createElementNS(NS, 'g');
  
  
  inner.appendChild(refs);
  lineSeg(refs, xScale(i, -90), yScale(i, 0), xScale(i, -79), yScale(i, 0), '#555', 1.6, '5 4');
  lineSeg(refs, xScale(i, -50), yScale(i, 0), xScale(i, 9), yScale(i, 0), '#555', 1.6, '5 4');
  lineSeg(refs, xScale(i, 42.5), yScale(i, 0), xScale(i, 90), yScale(i, 0), '#555', 1.6, '5 4');
  lineSeg(refs, xScale(i, 0), yScale(i, 5.7), xScale(i, 0), yScale(i, -10), '#555', 1.6, '5 4');

  const mapG = document.createElementNS(NS, 'path');
  
  
  mapG.setAttribute('d', coastlines.concat(borders).map(function (c) { return straightPath(i, c); }).join(''));
  mapG.setAttribute('fill', 'none');
  mapG.setAttribute('stroke', '#666');
  mapG.setAttribute('stroke-width', '1.9');
  mapG.setAttribute('stroke-linejoin', 'round');
  mapG.setAttribute('stroke-linecap', 'round');
  inner.appendChild(mapG);

  contourSets[i].forEach(function (c) {
    const line = document.createElementNS(NS, 'path');
    
    
    line.setAttribute('d', smoothPath(i, c[2], c[1] === 1));
    line.setAttribute('fill', 'none');
    line.setAttribute('stroke', waveColor(c[0]));
    line.setAttribute('stroke-width', '2');
    inner.appendChild(line);
  });

  cyclonePanels.forEach(function (panel, k) {
    if (panel !== i) return;
    const cx = xScale(i, cycloneLons[k]), cy = yScale(i, cycloneLats[k]);
    const mark = document.createElementNS(NS, 'g');
    
    
    const body = document.createElementNS(NS, 'path');
    body.setAttribute('d', 'M' + (cx + 2) + ' ' + (cy - 9) + 'C' + (cx + 7) + ' ' + (cy - 3) + ' ' + (cx + 7) + ' ' + (cy + 4) + ' ' + cx + ' ' + (cy + 9) + 'C' + (cx - 7) + ' ' + (cy + 3) + ' ' + (cx - 7) + ' ' + (cy - 4) + ' ' + (cx + 2) + ' ' + (cy - 9) + 'Z');
    body.setAttribute('fill', '#d8101c');
    body.setAttribute('stroke', '#000');
    body.setAttribute('stroke-width', '1.6');
    mark.appendChild(body);
    const letter = document.createElementNS(NS, 'text');
    letter.setAttribute('x', cx);
    letter.setAttribute('y', cy + 3);
    letter.setAttribute('text-anchor', 'middle');
    letter.setAttribute('font-size', '8');
    letter.setAttribute('font-weight', 'bold');
    letter.setAttribute('fill', '#fff');
    letter.textContent = cycloneLetters[k];
    mark.appendChild(letter);
    g.appendChild(mark);
  });

  const axes = document.createElementNS(NS, 'g');
  
  
  g.appendChild(axes);
  const frame = document.createElementNS(NS, 'rect');
  frame.setAttribute('x', left); frame.setAttribute('y', top);
  frame.setAttribute('width', right - left); frame.setAttribute('height', bottom - top);
  frame.setAttribute('fill', 'none'); frame.setAttribute('stroke', '#000'); frame.setAttribute('stroke-width', '3');
  axes.appendChild(frame);
  for (let lon = -90; lon <= 90; lon += 10) {
    const major = lon % 60 === 0;
    const len = major ? 7 : 3;
    lineSeg(axes, xScale(i, lon), top, xScale(i, lon), top - len, '#000', major ? 2 : 1.5);
    lineSeg(axes, xScale(i, lon), bottom, xScale(i, lon), bottom + len, '#000', major ? 2 : 1.5);
  }
  for (let lat = -10; lat <= 30; lat += 2) {
    const major = lat % 10 === 0;
    lineSeg(axes, left, yScale(i, lat), left - (major ? 4 : 2.5), yScale(i, lat), '#000', major ? 2 : 1.2);
    lineSeg(axes, right, yScale(i, lat), right + (major ? 6 : 3), yScale(i, lat), '#000', major ? 2 : 1.2);
  }

  if (i < 4) {
    latTickValues.forEach(function (lat, k) {
      const t = document.createElementNS(NS, 'text');
      
      
      t.setAttribute('x', 74);
      t.setAttribute('y', yScale(i, lat) + 12.5);
      t.setAttribute('text-anchor', 'end');
      t.setAttribute('font-size', '34.7');
      t.textContent = latTickLabels[k];
      g.appendChild(t);
    });
  }
  if (i % 4 === 3) {
    lonTickValues.forEach(function (lon, k) {
      const t = document.createElementNS(NS, 'text');
      
      
      t.setAttribute('x', xScale(i, lon));
      t.setAttribute('y', 911);
      t.setAttribute('text-anchor', 'middle');
      t.setAttribute('font-size', '34.7');
      t.textContent = lonTickLabels[k];
      g.appendChild(t);
    });
  }
}
for (let i = 0; i < 8; i++) drawPanel(i);

// ---------- colour bar ----------
const colorbar = document.getElementById('colorbar');
const boxWidth = (833 - 229) / 11;
for (let k = 0; k < 11; k++) {
  const box = document.createElementNS(NS, 'rect');
  
  
  box.setAttribute('x', 229 + k * boxWidth);
  box.setAttribute('y', 972);
  box.setAttribute('width', boxWidth);
  box.setAttribute('height', 23);
  box.setAttribute('fill', levelColor(k - 5));
  box.setAttribute('stroke', '#000');
  box.setAttribute('stroke-width', '1.2');
  colorbar.appendChild(box);
}
colorbarLabels.forEach(function (label, k) {
  const t = document.createElementNS(NS, 'text');
  
  
  t.setAttribute('x', 229 + (k + 1) * boxWidth);
  t.setAttribute('y', 1023);
  t.setAttribute('text-anchor', 'middle');
  t.setAttribute('font-size', '30');
  t.textContent = label;
  colorbar.appendChild(t);
});
</script>
</body>
</html>
